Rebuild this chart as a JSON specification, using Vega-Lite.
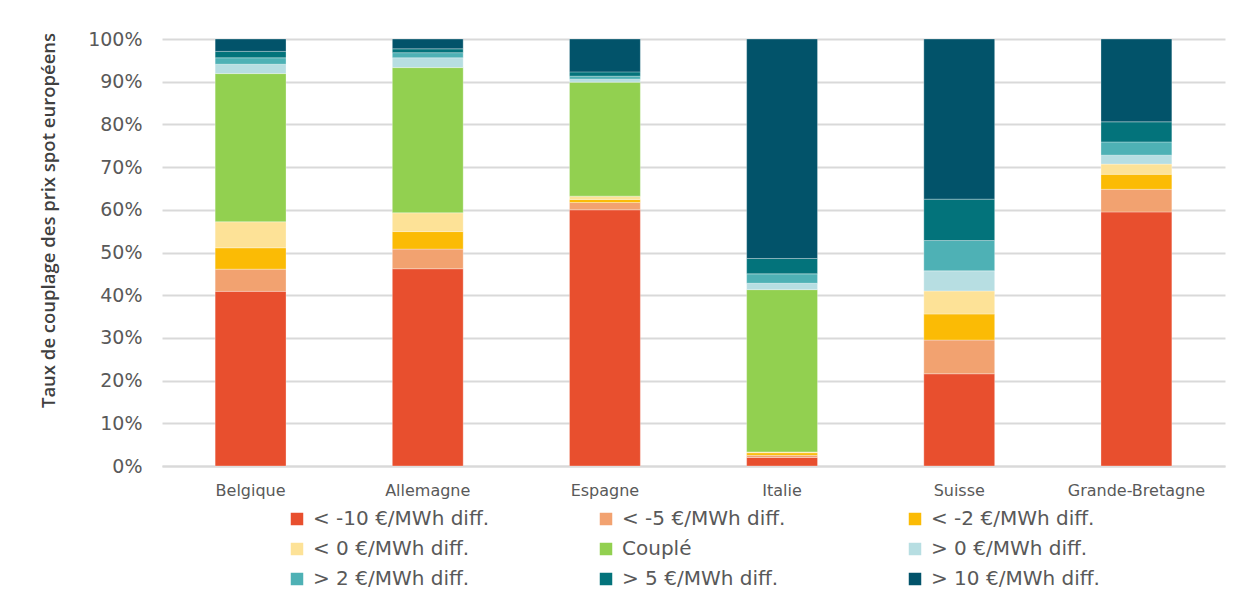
{
  "$schema": "https://vega.github.io/schema/vega-lite/v6.json",
  "width": 1063,
  "height": 427,
  "autosize": {"type": "none"},
  "padding": {"left": 162, "top": 39, "right": 15, "bottom": 126},
  "background": "white",
  "data": {
    "values": [
      {"pays": "Belgique", "cat": "< -10 €/MWh diff.", "ord": 1, "v": 40.9},
      {"pays": "Belgique", "cat": "< -5 €/MWh diff.", "ord": 2, "v": 5.2},
      {"pays": "Belgique", "cat": "< -2 €/MWh diff.", "ord": 3, "v": 5.0},
      {"pays": "Belgique", "cat": "< 0 €/MWh diff.", "ord": 4, "v": 6.1},
      {"pays": "Belgique", "cat": "Couplé", "ord": 5, "v": 34.7},
      {"pays": "Belgique", "cat": "> 0 €/MWh diff.", "ord": 6, "v": 2.2},
      {"pays": "Belgique", "cat": "> 2 €/MWh diff.", "ord": 7, "v": 1.5},
      {"pays": "Belgique", "cat": "> 5 €/MWh diff.", "ord": 8, "v": 1.5},
      {"pays": "Belgique", "cat": "> 10 €/MWh diff.", "ord": 9, "v": 2.9},
      {"pays": "Allemagne", "cat": "< -10 €/MWh diff.", "ord": 1, "v": 46.2},
      {"pays": "Allemagne", "cat": "< -5 €/MWh diff.", "ord": 2, "v": 4.6},
      {"pays": "Allemagne", "cat": "< -2 €/MWh diff.", "ord": 3, "v": 4.1},
      {"pays": "Allemagne", "cat": "< 0 €/MWh diff.", "ord": 4, "v": 4.4},
      {"pays": "Allemagne", "cat": "Couplé", "ord": 5, "v": 34.0},
      {"pays": "Allemagne", "cat": "> 0 €/MWh diff.", "ord": 6, "v": 2.3},
      {"pays": "Allemagne", "cat": "> 2 €/MWh diff.", "ord": 7, "v": 1.2},
      {"pays": "Allemagne", "cat": "> 5 €/MWh diff.", "ord": 8, "v": 0.9},
      {"pays": "Allemagne", "cat": "> 10 €/MWh diff.", "ord": 9, "v": 2.3},
      {"pays": "Espagne", "cat": "< -10 €/MWh diff.", "ord": 1, "v": 60.0},
      {"pays": "Espagne", "cat": "< -5 €/MWh diff.", "ord": 2, "v": 1.7},
      {"pays": "Espagne", "cat": "< -2 €/MWh diff.", "ord": 3, "v": 0.7},
      {"pays": "Espagne", "cat": "< 0 €/MWh diff.", "ord": 4, "v": 0.8},
      {"pays": "Espagne", "cat": "Couplé", "ord": 5, "v": 26.7},
      {"pays": "Espagne", "cat": "> 0 €/MWh diff.", "ord": 6, "v": 0.7},
      {"pays": "Espagne", "cat": "> 2 €/MWh diff.", "ord": 7, "v": 0.7},
      {"pays": "Espagne", "cat": "> 5 €/MWh diff.", "ord": 8, "v": 1.0},
      {"pays": "Espagne", "cat": "> 10 €/MWh diff.", "ord": 9, "v": 7.7},
      {"pays": "Italie", "cat": "< -10 €/MWh diff.", "ord": 1, "v": 2.0},
      {"pays": "Italie", "cat": "< -5 €/MWh diff.", "ord": 2, "v": 0.5},
      {"pays": "Italie", "cat": "< -2 €/MWh diff.", "ord": 3, "v": 0.6},
      {"pays": "Italie", "cat": "< 0 €/MWh diff.", "ord": 4, "v": 0.2},
      {"pays": "Italie", "cat": "Couplé", "ord": 5, "v": 38.0},
      {"pays": "Italie", "cat": "> 0 €/MWh diff.", "ord": 6, "v": 1.5},
      {"pays": "Italie", "cat": "> 2 €/MWh diff.", "ord": 7, "v": 2.2},
      {"pays": "Italie", "cat": "> 5 €/MWh diff.", "ord": 8, "v": 3.6},
      {"pays": "Italie", "cat": "> 10 €/MWh diff.", "ord": 9, "v": 51.4},
      {"pays": "Suisse", "cat": "< -10 €/MWh diff.", "ord": 1, "v": 21.6},
      {"pays": "Suisse", "cat": "< -5 €/MWh diff.", "ord": 2, "v": 7.9},
      {"pays": "Suisse", "cat": "< -2 €/MWh diff.", "ord": 3, "v": 6.1},
      {"pays": "Suisse", "cat": "< 0 €/MWh diff.", "ord": 4, "v": 5.4},
      {"pays": "Suisse", "cat": "> 0 €/MWh diff.", "ord": 6, "v": 4.7},
      {"pays": "Suisse", "cat": "> 2 €/MWh diff.", "ord": 7, "v": 7.1},
      {"pays": "Suisse", "cat": "> 5 €/MWh diff.", "ord": 8, "v": 9.7},
      {"pays": "Suisse", "cat": "> 10 €/MWh diff.", "ord": 9, "v": 37.5},
      {"pays": "Grande-Bretagne", "cat": "< -10 €/MWh diff.", "ord": 1, "v": 59.5},
      {"pays": "Grande-Bretagne", "cat": "< -5 €/MWh diff.", "ord": 2, "v": 5.3},
      {"pays": "Grande-Bretagne", "cat": "< -2 €/MWh diff.", "ord": 3, "v": 3.5},
      {"pays": "Grande-Bretagne", "cat": "< 0 €/MWh diff.", "ord": 4, "v": 2.4},
      {"pays": "Grande-Bretagne", "cat": "> 0 €/MWh diff.", "ord": 6, "v": 2.1},
      {"pays": "Grande-Bretagne", "cat": "> 2 €/MWh diff.", "ord": 7, "v": 3.1},
      {"pays": "Grande-Bretagne", "cat": "> 5 €/MWh diff.", "ord": 8, "v": 4.7},
      {"pays": "Grande-Bretagne", "cat": "> 10 €/MWh diff.", "ord": 9, "v": 19.4}
    ]
  },
  "mark": {"type": "bar", "stroke": "white", "strokeWidth": 0.6, "strokeOpacity": 0.5},
  "encoding": {
    "x": {
      "field": "pays",
      "type": "nominal",
      "sort": ["Belgique", "Allemagne", "Espagne", "Italie", "Suisse", "Grande-Bretagne"],
      "scale": {"paddingInner": 0.6, "paddingOuter": 0.3},
      "axis": {
        "title": null,
        "labelAngle": 0,
        "labelFont": "DejaVu Sans",
        "labelFontSize": 16,
        "labelColor": "#595959",
        "labelPadding": 16,
        "ticks": false,
        "tickSize": 0,
        "domainColor": "#D9D9D9",
        "domainWidth": 2
      }
    },
    "y": {
      "field": "v",
      "type": "quantitative",
      "stack": "zero",
      "scale": {"domain": [0, 100], "nice": false},
      "axis": {
        "title": "Taux de couplage des prix spot européens",
        "titleFont": "Open Sans",
        "titleFontSize": 18.5,
        "titleFontWeight": 600,
        "titleColor": "#404040",
        "titleAngle": -90,
        "titleX": -114,
        "titleY": 181,
        "titleAlign": "center",
        "titleBaseline": "middle",
        "values": [0, 10, 20, 30, 40, 50, 60, 70, 80, 90, 100],
        "labelExpr": "datum.value + '%'",
        "labelFont": "DejaVu Sans",
        "labelFontSize": 19,
        "labelColor": "#595959",
        "labelPadding": 20,
        "ticks": false,
        "tickSize": 0,
        "domain": false,
        "grid": true,
        "gridColor": "#D9D9D9",
        "gridWidth": 2
      }
    },
    "color": {
      "field": "cat",
      "type": "nominal",
      "sort": null,
      "scale": {
        "domain": ["< -10 €/MWh diff.", "< -5 €/MWh diff.", "< -2 €/MWh diff.", "< 0 €/MWh diff.", "Couplé", "> 0 €/MWh diff.", "> 2 €/MWh diff.", "> 5 €/MWh diff.", "> 10 €/MWh diff."],
        "range": ["#E84F2E", "#F2A270", "#FBBB05", "#FDE297", "#92D050", "#B7DEE2", "#4EB1B5", "#03737B", "#02536A"]
      },
      "legend": {
        "title": null,
        "orient": "none",
        "direction": "horizontal",
        "legendX": 125,
        "legendY": 470,
        "columns": 3,
        "gridAlign": "all",
        "columnPadding": 106,
        "rowPadding": 10,
        "padding": 0,
        "symbolType": "square",
        "symbolSize": 156,
        "symbolStrokeWidth": 0,
        "labelFont": "DejaVu Sans",
        "labelFontSize": 20,
        "labelColor": "#595959",
        "labelOffset": 6,
        "labelLimit": 400
      }
    },
    "order": {"field": "ord", "type": "quantitative", "sort": "ascending"}
  },
  "config": {"view": {"stroke": null}}
}
